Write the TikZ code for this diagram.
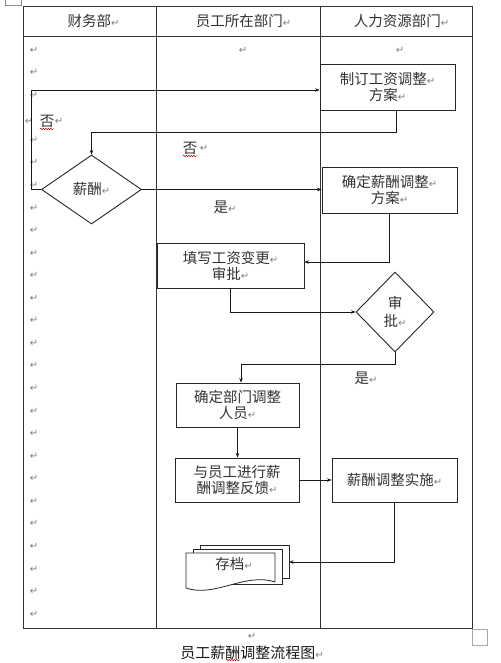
\documentclass[tikz,border=0pt]{standalone}
\usepackage{fontspec}
\usetikzlibrary{arrows.meta,shapes.geometric,decorations.pathmorphing}
\newfontfamily\cjk{Noto Sans CJK SC}
\newfontfamily\djv{DejaVu Sans}
\newcommand\parmark{{\djv\fontsize{10}{10}\selectfont\color{black!50}↵}}
\begin{document}
\begin{tikzpicture}[x=1pt,y=-1pt,
 tbl/.style={draw=black!80,line width=0.9pt},
 txt/.style={font=\cjk\fontsize{14.5}{16}\selectfont, text=black!80, inner sep=0pt},
 box/.style={txt, draw=black!85, line width=0.9pt, align=center, rectangle},
 dia/.style={txt, draw=black!85, line width=0.9pt, diamond, align=center},
 arr/.style={draw=black!90, line width=0.7pt, -{Stealth[length=4.5pt,width=3.5pt]}},
 ln/.style={draw=black!90, line width=0.7pt},
 mk/.style={inner sep=0pt},
 wavy/.style={draw=red!75!black, line width=0.5pt, decorate, decoration={snake,amplitude=0.7pt,segment length=2.5pt}}]
\useasboundingbox[fill=white] (0,0) rectangle (500,663);

% table
\draw[tbl] (23,6) rectangle (472,628);
\draw[tbl] (23,36) -- (472,36);
\draw[tbl] (156,6) -- (156,628);
\draw[tbl] (320,6) -- (320,628);
\draw[black!45,line width=0.6pt] (5,-1) rectangle (21,5);
\draw[black!35,line width=0.8pt] (472,629) rectangle (487,645);

% headers
\node[txt] (h1) at (93.5,21) {财务部\parmark};
\node[txt] (h2) at (243.5,21) {员工所在部门\parmark};
\node[txt] (h3) at (401.5,21) {人力资源部门\parmark};

% paragraph marks
\foreach \i in {0,1,2,4,5,6,7,8,9,10,11,12,13,14,15,16,17,18,19,20,21,22,23,24,25}
  \node[mk] (m\i) at (34,{50+22.56*\i}) {\parmark};
\node[mk] (mc2) at (243,50) {\parmark};
\node[mk] (mc3) at (400,50) {\parmark};
\node[mk] (mcap) at (252,636) {\parmark};

% shapes
\node[box, minimum width=135, minimum height=46] (b1) at (387.5,87) {制订工资调整\parmark\\方案\parmark};
\node[box, minimum width=135, minimum height=46] (b2) at (389.5,190) {确定薪酬调整\parmark\\方案\parmark};
\node[box, minimum width=147, minimum height=45] (b3) at (230.5,265.5) {填写工资变更\parmark\\审批\parmark};
\node[box, minimum width=123, minimum height=44] (b4) at (237.5,405) {确定部门调整\\人员\parmark};
\node[box, minimum width=124, minimum height=44] (b5) at (237,480) {与员工进行薪\\酬调整反馈\parmark};
\node[box, minimum width=125, minimum height=44] (b6) at (394.5,480) {薪酬调整实施\parmark};
\node[dia, minimum width=100, minimum height=69] (d1) at (91.5,189.5) {薪酬\parmark};
\node[dia, minimum width=78, minimum height=80, font=\cjk\fontsize{14.5}{18}\selectfont] (d2) at (395,312) {审\\批\parmark};

% multi-document
\draw[black!85,line width=0.8pt,fill=white] (200,545) rectangle (289,578);
\draw[black!85,line width=0.8pt,fill=white] (193,549) rectangle (282,584);
\draw[black!85,line width=0.8pt,fill=white] (186,553) -- (275,553) -- (275,582)
  .. controls (245,572) and (215,598) .. (186,588) -- cycle;
\node[txt] (doc) at (234,564) {存档\parmark};
\coordinate (docR) at (289,562);

% labels
\node[mk] (nm) at (29,121) {\parmark};
\node[txt] (no1) at (47,121) {否};
\node[mk] (no1m) at (59,121) {\parmark};
\draw[wavy] (40,129) -- (54,129);
\node[txt] (no2) at (190,148) {否};
\node[mk] (no2m) at (204,148) {\parmark};
\draw[wavy] (183,156) -- (197,156);
\node[txt] (yes1) at (225,207) {是\parmark};
\node[txt] (yes2) at (366,378) {是\parmark};
\node[txt, font=\cjk\fontsize{15}{17}\selectfont, text=black!90] (cap) at (252,653) {员工薪酬调整流程图\parmark};
\draw[wavy] (226,660) -- (240,660);

% connectors
\coordinate (y90) at (0,90);
\draw[arr] (d1.west) -- ++(-9.5,0) |- (b1.west |- y90);
\draw[arr] ([xshift=8.5pt]b1.south) -- ++(0,22) -| (d1.north);
\draw[arr] (d1.east) -- (b2.west |- d1.east);
\draw[arr] (b2.south) |- ([yshift=3.5pt]b3.east);
\draw[arr] (b3.south) |- (d2.west);
\draw[arr] (d2.south) -- ++(0,12) -| ([xshift=3.5pt]b4.north);
\draw[arr] (b4.south) -- (b4.south |- b5.north);
\draw[arr] (b5.east) -- (b6.west);
\draw[arr] (b6.south) |- (docR);
\end{tikzpicture}
\end{document}
